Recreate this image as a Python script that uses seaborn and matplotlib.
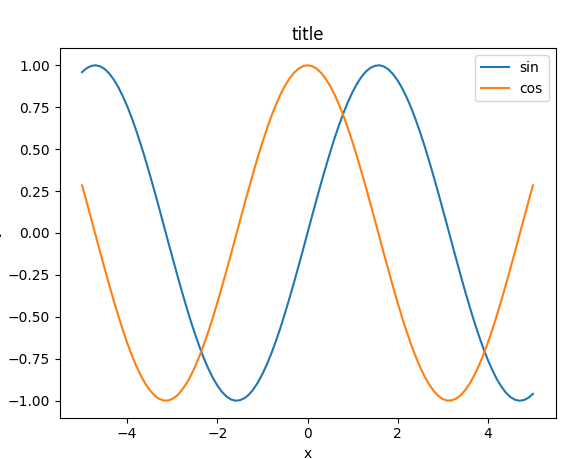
import matplotlib
matplotlib.use("Agg")
import matplotlib.pyplot as plt
import seaborn as sns

x_values = [-5.0, -4.9, -4.8, -4.7, -4.6, -4.5, -4.4, -4.3, -4.2, -4.1,
            -4.0, -3.9, -3.8, -3.7, -3.6, -3.5, -3.4, -3.3, -3.2, -3.1,
            -3.0, -2.9, -2.8, -2.7, -2.6, -2.5, -2.4, -2.3, -2.2, -2.1,
            -2.0, -1.9, -1.8, -1.7, -1.6, -1.5, -1.4, -1.3, -1.2, -1.1,
            -1.0, -0.9, -0.8, -0.7, -0.6, -0.5, -0.4, -0.3, -0.2, -0.1,
            0.0,
            0.1, 0.2, 0.3, 0.4, 0.5, 0.6, 0.7, 0.8, 0.9, 1.0,
            1.1, 1.2, 1.3, 1.4, 1.5, 1.6, 1.7, 1.8, 1.9, 2.0,
            2.1, 2.2, 2.3, 2.4, 2.5, 2.6, 2.7, 2.8, 2.9, 3.0,
            3.1, 3.2, 3.3, 3.4, 3.5, 3.6, 3.7, 3.8, 3.9, 4.0,
            4.1, 4.2, 4.3, 4.4, 4.5, 4.6, 4.7, 4.8, 4.9, 5.0]

sin_values = [0.959, 0.982, 0.996, 1.000, 0.994, 0.978, 0.952, 0.916, 0.872, 0.818,
              0.757, 0.688, 0.612, 0.530, 0.443, 0.351, 0.256, 0.158, 0.058, -0.042,
              -0.141, -0.239, -0.335, -0.427, -0.516, -0.598, -0.675, -0.746, -0.808, -0.863,
              -0.909, -0.946, -0.974, -0.992, -1.000, -0.997, -0.985, -0.964, -0.932, -0.891,
              -0.841, -0.783, -0.717, -0.644, -0.565, -0.479, -0.389, -0.296, -0.199, -0.100,
              0.000,
              0.100, 0.199, 0.296, 0.389, 0.479, 0.565, 0.644, 0.717, 0.783, 0.841,
              0.891, 0.932, 0.964, 0.985, 0.997, 1.000, 0.992, 0.974, 0.946, 0.909,
              0.863, 0.808, 0.746, 0.675, 0.598, 0.516, 0.427, 0.335, 0.239, 0.141,
              0.042, -0.058, -0.158, -0.256, -0.351, -0.443, -0.530, -0.612, -0.688, -0.757,
              -0.818, -0.872, -0.916, -0.952, -0.978, -0.994, -1.000, -0.996, -0.982, -0.959]

cos_values = [0.284, 0.187, 0.087, -0.012, -0.112, -0.211, -0.307, -0.401, -0.490, -0.575,
              -0.654, -0.726, -0.791, -0.848, -0.897, -0.936, -0.967, -0.987, -0.998, -0.999,
              -0.990, -0.971, -0.942, -0.904, -0.857, -0.801, -0.737, -0.666, -0.589, -0.505,
              -0.416, -0.323, -0.227, -0.129, -0.029, 0.071, 0.170, 0.267, 0.362, 0.454,
              0.540, 0.622, 0.697, 0.765, 0.825, 0.878, 0.921, 0.955, 0.980, 0.995,
              1.000,
              0.995, 0.980, 0.955, 0.921, 0.878, 0.825, 0.765, 0.697, 0.622, 0.540,
              0.454, 0.362, 0.267, 0.170, 0.071, -0.029, -0.129, -0.227, -0.323, -0.416,
              -0.505, -0.589, -0.666, -0.737, -0.801, -0.857, -0.904, -0.942, -0.971, -0.990,
              -0.999, -0.998, -0.987, -0.967, -0.936, -0.897, -0.848, -0.791, -0.726, -0.654,
              -0.575, -0.490, -0.401, -0.307, -0.211, -0.112, -0.012, 0.087, 0.187, 0.284]

series_labels = ["sin", "cos"]

fig = plt.figure(figsize=(5.78, 4.59), dpi=100)
ax = fig.add_axes([59.5 / 578, (459 - 417.5) / 459, 496 / 578, 369 / 459])

sns.lineplot(x=x_values, y=sin_values, label=series_labels[0], color="#1f77b4", ax=ax)
sns.lineplot(x=x_values, y=cos_values, label=series_labels[1], color="#ff7f0e", ax=ax)

ax.set_title("title")
ax.set_xlabel("x")
ax.set_ylabel("y")
ax.legend(loc="upper right")

fig.savefig("out.png", dpi=100)
